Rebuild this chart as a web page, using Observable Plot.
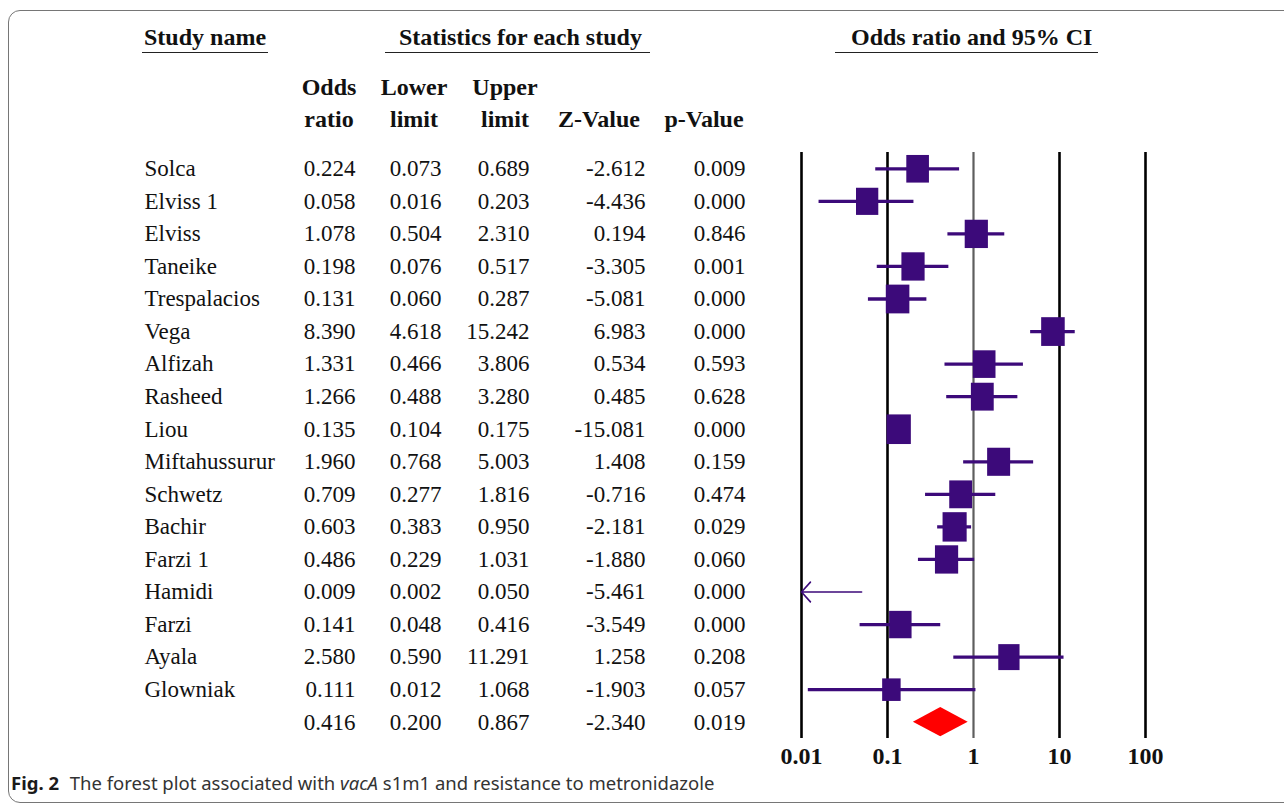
<!DOCTYPE html>
<html>
<head>
<meta charset="utf-8">
<script src="https://cdn.jsdelivr.net/npm/d3@7"></script>
<script src="https://cdn.jsdelivr.net/npm/@observablehq/plot@0.6"></script>
<style>
  html, body { margin: 0; padding: 0; background: #fff; }
  #wrap { position: relative; width: 1284px; height: 805px; overflow: hidden; background: #fff; }
  #frame { position: absolute; left: 8px; top: 10px; width: 1320px; height: 791px; border: 1.5px solid #767676; border-radius: 12px; }
  .hdr { position: absolute; font-family: "Liberation Serif", serif; font-weight: bold; font-size: 24px; line-height: 24px; color: #111; white-space: nowrap; }
  .hdr span { display: inline-block; border-bottom: 1.6px solid #222; padding: 0 2px 3px 2px; }
  .col { position: absolute; font-family: "Liberation Serif", serif; font-weight: bold; font-size: 24px; line-height: 32px; color: #111; text-align: center; width: 120px; white-space: nowrap; }
  .plot { position: absolute; top: 0; }
  #caption { position: absolute; left: 11px; top: 770px; font-family: "Noto Sans", sans-serif; font-size: 18.5px; color: #333; white-space: nowrap; }
  #caption b { color: #1a1a1a; margin-right: 6px; }
</style>
</head>
<body>
<div id="wrap">
  <div id="frame"></div>
  <div class="hdr" style="left:142px; top:25px;"><span>Study name</span></div>
  <div class="hdr" style="left:385px; top:25px;"><span style="padding:0 8px 3px 14px;">Statistics for each study</span></div>
  <div class="hdr" style="left:835px; top:25px;"><span style="padding:0 6px 3px 16px;">Odds ratio and 95% CI</span></div>
  <div id="colheads"></div>
  <div id="table" class="plot" style="left:0px;"></div>
  <div id="forest" class="plot" style="left:760px;"></div>
  <div id="caption"><b>Fig. 2</b> The forest plot associated with <i>vacA</i> s1m1 and resistance to metronidazole</div>
</div>
<script>
// ---- data ----
const studyNames = ["Solca","Elviss 1","Elviss","Taneike","Trespalacios","Vega","Alfizah","Rasheed","Liou","Miftahussurur","Schwetz","Bachir","Farzi 1","Hamidi","Farzi","Ayala","Glowniak"];
const oddsRatio  = [0.224,0.058,1.078,0.198,0.131,8.390,1.331,1.266,0.135,1.960,0.709,0.603,0.486,0.009,0.141,2.580,0.111];
const lowerLimit = [0.073,0.016,0.504,0.076,0.060,4.618,0.466,0.488,0.104,0.768,0.277,0.383,0.229,0.002,0.048,0.590,0.012];
const upperLimit = [0.689,0.203,2.310,0.517,0.287,15.242,3.806,3.280,0.175,5.003,1.816,0.950,1.031,0.050,0.416,11.291,1.068];
const zValue     = [-2.612,-4.436,0.194,-3.305,-5.081,6.983,0.534,0.485,-15.081,1.408,-0.716,-2.181,-1.880,-5.461,-3.549,1.258,-1.903];
const pValue     = [0.009,0.000,0.846,0.001,0.000,0.000,0.593,0.628,0.000,0.159,0.474,0.029,0.060,0.000,0.000,0.208,0.057];
// relative weights (%)
const weights    = [6.0,5.8,6.3,6.3,6.5,6.5,6.0,6.1,6.9,6.2,6.1,6.8,6.3,4.8,5.9,5.3,4.0];
const summaryValues = {or: 0.416, lower: 0.200, upper: 0.867, z: -2.340, p: 0.019};
const columnHeads = [["Odds","ratio"],["Lower","limit"],["Upper","limit"],["","Z-Value"],["","p-Value"]];
const tickValues = [0.01, 0.1, 1, 10, 100];
const tickLabels = ["0.01","0.1","1","10","100"];
const boundaryLines = [0.01, 0.1, 10, 100];
const nullLine = [1];

// ---- layout ----
const H = 805, MT = 152, MB = 67;
const nameX = 144;
const colRight = [355, 441, 529, 645, 745];
const colCenter = [329, 414, 505, 599, 704];
const purple = "#3c0a7a";
const serif = "Liberation Serif, Times New Roman, serif";

const rows = studyNames.map((name, i) => ({
  name, or: oddsRatio[i], lower: lowerLimit[i], upper: upperLimit[i],
  z: zValue[i], p: pValue[i], weight: weights[i], row: i
}));
const summary = {name: "", ...summaryValues, row: studyNames.length};
const allRows = [...rows, summary];
const yDomain = [-0.5, allRows.length - 0.5];

// column headers
const ch = document.getElementById("colheads");
columnHeads.forEach((lines, j) => {
  const d = document.createElement("div");
  d.className = "col";
  d.style.left = (colCenter[j] - 60) + "px";
  d.style.top = "71px";
  d.innerHTML = (lines[0] || "&nbsp;") + "<br>" + lines[1];
  ch.appendChild(d);
});

// ---- table ----
const keys = ["or", "lower", "upper", "z", "p"];
const table = Plot.plot({
  width: 760, height: H, marginTop: MT, marginBottom: MB, marginLeft: 0, marginRight: 0,
  x: {domain: [0, 760], range: [0, 760], axis: null},
  y: {domain: yDomain, reverse: true, axis: null},
  style: {fontFamily: serif, fontSize: "23px", background: "transparent", color: "#111"},
  marks: [
    Plot.text(allRows, {x: () => nameX, y: "row", text: "name", textAnchor: "start", fontSize: 23, fill: "#111"}),
    ...keys.map((k, j) => Plot.text(allRows, {
      x: () => colRight[j], y: "row", text: d => d[k].toFixed(3),
      textAnchor: "end", fontSize: 23, fill: "#111"
    }))
  ]
});
document.getElementById("table").appendChild(table);

// ---- forest ----
const rectSymbol = {
  draw(context, size) {
    const w = Math.sqrt(size), h = w * 1.22;
    context.rect(-w / 2, -h / 2, w, h);
  }
};
const diamond = [
  {x: summary.lower, y1: summary.row, y2: summary.row},
  {x: summary.or, y1: summary.row - 0.45, y2: summary.row + 0.45},
  {x: summary.upper, y1: summary.row, y2: summary.row}
];
const xMin = tickValues[0];
const tickLabelOf = new Map(tickValues.map((v, i) => [v, tickLabels[i]]));
const forest = Plot.plot({
  width: 420, height: H, marginTop: MT, marginBottom: MB, marginLeft: 41, marginRight: 35,
  x: {type: "log", domain: [tickValues[0], tickValues[tickValues.length - 1]],
      ticks: tickValues, tickFormat: d => tickLabelOf.get(d) ?? "", tickSize: 0, tickPadding: 8, label: null},
  y: {domain: yDomain, reverse: true, axis: null},
  r: {type: "sqrt", domain: [0, 7], range: [0, 13.8]},
  style: {fontFamily: serif, fontSize: "24px", fontWeight: "bold", background: "transparent", color: "#111"},
  marks: [
    Plot.ruleX(boundaryLines, {stroke: "#000", strokeWidth: 2.6}),
    Plot.ruleX(nullLine, {stroke: "#5e5e5e", strokeWidth: 2.2}),
    Plot.ruleY(rows.filter(d => d.lower >= xMin), {y: "row", x1: "lower", x2: "upper", stroke: purple, strokeWidth: 3.3}),
    Plot.arrow(rows.filter(d => d.lower < xMin), {
      x1: "upper", x2: () => xMin, y1: "row", y2: "row",
      stroke: purple, strokeWidth: 1.6, headLength: 12.5, headAngle: 96
    }),
    Plot.dot(rows.filter(d => d.or >= xMin), {x: "or", y: "row", r: "weight", symbol: rectSymbol, fill: purple, stroke: "none"}),
    Plot.areaY(diamond, {x: "x", y1: "y1", y2: "y2", fill: "#ff0000", curve: "linear"})
  ]
});
document.getElementById("forest").appendChild(forest);
</script>
</body>
</html>
